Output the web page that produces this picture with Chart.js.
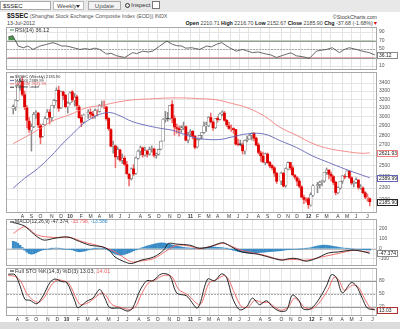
<!DOCTYPE html>
<html lang="en">
<head>
<meta charset="UTF-8">
<title>$SSEC Weekly</title>
<script src="https://cdn.jsdelivr.net/npm/chart.js"></script>
<style>
  body { margin: 0; width: 400px; height: 329px; overflow: hidden; background: #fff;
         font-family: Arial, "Liberation Sans", sans-serif; position: relative; color: #222; }
  #bar { position: absolute; left: 0; top: 0; width: 400px; height: 12px; background: #e8e8e8; }
  #bar div { position: absolute; top: 1px; height: 9px; font-size: 6px; line-height: 9px; box-sizing: border-box; }
  #sym { left: 0; width: 51px; background: #fff; border: 1px solid #aaa; padding-left: 2px; }
  #per { left: 53px; width: 31px; background: #fff; border: 1px solid #bbb; padding-left: 3px; color: #444; }
  #per span { position: absolute; right: 3px; top: 3px; border-left: 2px solid transparent; border-right: 2px solid transparent; border-top: 3px solid #333; }
  #upd { left: 88px; width: 33px; background: #f2f2f2; border: 1px solid #aaa; text-align: center; color: #555; }
  #insp { left: 125px; width: 28px; color: #333; }
  #insp i { display: inline-block; width: 3px; height: 3px; border: 1px solid #333; border-radius: 50%; margin-right: 1px; vertical-align: -1px; }
  #chk { left: 152px; width: 8px; height: 8px !important; background: #fff; border: 1px solid #777; }
  .t { position: absolute; white-space: nowrap; font-size: 5.3px; line-height: 6px; }
  #title { left: 7px; top: 13px; color: #555; }
  #title b { font-size: 6.5px; color: #111; }
  #copy { right: 23px; top: 14px; color: #444; }
  #date { left: 7px; top: 20px; color: #444; }
  #ohlc { right: 22px; top: 20px; color: #444; }
  #ohlc b { color: #111; }
  #ohlc span { color: #d00; }
  #foot { position: absolute; left: 0; top: 322px; width: 400px; height: 7px; background: #dcdcdc; }
  canvas { position: absolute; left: 0; }
</style>
</head>
<body>
<div id="bar">
  <div id="sym">$SSEC</div>
  <div id="per">Weekly<span></span></div>
  <div id="upd">Update</div>
  <div id="insp"><i></i>Inspect</div>
  <div id="chk"></div>
</div>
<div class="t" id="title"><b>$SSEC</b> (Shanghai Stock Exchange Composite Index (EOD)) INDX</div>
<div class="t" id="copy">©StockCharts.com</div>
<div class="t" id="date">13-Jul-2012</div>
<div class="t" id="ohlc"><b>Open</b> 2210.71 <b>High</b> 2216.70 <b>Low</b> 2152.67 <b>Close</b> 2185.90 <b>Chg</b> -37.68 (-1.68%)<span>▼</span></div>

<canvas id="rsiChart" width="400" height="43" style="top:27px"></canvas>
<canvas id="priceChart" width="400" height="148" style="top:72px"></canvas>
<canvas id="macdChart" width="400" height="47" style="top:219px"></canvas>
<canvas id="stoChart" width="400" height="55" style="top:268px"></canvas>
<div id="foot"></div>

<script>
  // weekly bars, 10-Jul-2009 .. 13-Jul-2012 (null = market closed all week)
  const opens = [
    3090,3110,3190,3370,3420,3255,3100,2950,2850,2890,
    3030,3040,2900,2790,2910,2980,3050,2990,3130,3190,
    3310,3100,3290,3250,3110,3160,3290,3190,3230,3110,
    2990,2940,null,3030,3050,3030,3010,3060,3060,3130,
    3130,3110,2980,2860,2690,2690,2590,2650,2550,2570,
    2510,2420,2380,2470,2430,2570,2640,2670,2600,2640,
    2610,2660,2660,2600,2610,2660,2740,2970,2980,2980,
    3140,2980,2880,2870,2860,2880,2890,2750,2825,2840,
    2790,2680,2760,2800,2830,2900,2900,2990,2940,2880,
    2980,2970,3030,3040,2960,2900,2870,2870,2860,2710,
    2710,2700,2640,2750,2760,2800,2820,2770,2700,2620,
    2590,2530,2610,2530,2500,2480,2430,null,2360,2430,
    2320,2470,2530,2480,2410,2390,2360,2310,2220,2200,
    2210,2160,2240,null,2320,2330,2350,2360,2440,2460,
    2420,2400,2350,2260,2300,2360,2400,2400,2450,2390,
    2340,2350,2370,2300,2300,2260,2220,2210.71
  ];
  const highs = [
    3135,3195,3380,3460,3478,3300,3130,2990,2920,3050,
    3070,3050,2920,2920,3000,3080,3080,3130,3200,3340,
    3361,3300,3300,3260,3170,3290,3306,3270,3250,3130,
    3020,3030,null,3080,3090,3060,3090,3080,3140,3180,
    3181,3120,2990,2870,2740,2700,2680,2660,2610,2590,
    2540,2430,2480,2510,2580,2650,2690,2680,2680,2650,
    2680,2690,2670,2620,2660,2740,2980,3060,3050,3130,
    3186,3010,2920,2900,2900,2940,2900,2830,2860,2850,
    2800,2760,2800,2830,2940,2940,3000,3040,2950,2980,
    3000,3040,3067,3060,2970,2940,2910,2880,2860,2760,
    2750,2720,2750,2790,2810,2826,2830,2780,2720,2640,
    2630,2620,2620,2540,2510,2490,2440,null,2440,2440,
    2480,2536,2530,2500,2420,2400,2380,2320,2240,2220,
    2220,2260,2330,null,2350,2360,2370,2440,2478,2460,
    2440,2410,2360,2310,2360,2410,2420,2453,2450,2400,
    2360,2390,2370,2330,2310,2270,2250,2216.70
  ];
  const lows = [
    3030,3070,3180,3310,3240,3080,2880,2830,2639,2880,
    2980,2880,2712,2780,2900,2970,2920,2950,3100,3180,
    3060,3090,3200,3100,3040,3140,3170,3120,3080,2980,
    2890,2930,null,2980,2990,2980,2980,3010,3050,3110,
    3090,2960,2850,2680,2620,2481,2560,2540,2520,2500,
    2420,2319,2370,2410,2420,2560,2600,2580,2590,2580,
    2600,2630,2580,2570,2600,2650,2740,2940,2950,2970,
    2930,2800,2820,2790,2830,2860,2740,2720,2790,2760,
    2661,2670,2750,2760,2820,2840,2890,2930,2850,2870,
    2940,2960,3010,2950,2890,2860,2840,2820,2700,2690,
    2690,2610,2610,2730,2760,2750,2740,2690,2610,2540,
    2530,2510,2520,2480,2460,2400,2340,null,2330,2310,
    2307,2460,2460,2410,2380,2320,2300,2220,2170,2180,
    2132,2150,2230,null,2260,2300,2320,2350,2420,2380,
    2360,2330,2242,2250,2290,2340,2380,2400,2380,2330,
    2310,2340,2290,2290,2250,2210,2190,2152.67
  ];
  const closes = [
    3114,3189,3372,3412,3260,3113,2960,2860,2890,3027,
    3040,2910,2779,2911,2976,3050,2996,3128,3187,3308,
    3096,3295,3247,3114,3153,3277,3196,3224,3128,2989,
    2939,3018,null,3051,3031,3014,3068,3060,3129,3131,
    3130,2979,2870,2688,2697,2583,2656,2554,2569,2514,
    2427,2383,2470,2424,2573,2637,2672,2604,2642,2610,
    2656,2663,2598,2610,2656,2738,2971,2975,2979,3129,
    2985,2888,2872,2857,2880,2895,2749,2808,2839,2791,
    2677,2752,2798,2828,2899,2905,2995,2944,2878,2977,
    2967,3030,3050,2960,2911,2872,2871,2859,2709,2705,
    2705,2642,2746,2762,2797,2820,2770,2701,2626,2593,
    2534,2612,2528,2497,2482,2432,2359,null,2431,2317,
    2473,2528,2481,2416,2397,2360,2315,2224,2205,2199,
    2163,2244,2319,null,2330,2351,2357,2439,2460,2421,
    2404,2349,2262,2302,2359,2406,2396,2452,2394,2344,
    2350,2373,2306,2307,2260,2225,2224,2185.90
  ];

  // moving averages (bar index, value)
  const ma50Idx = [0,5,10.6,16.6,22,26.4,30.7,35,39.2,43,47,52,57.6,65,70.4,76.4,82,90.5,96,103.3,110.6,117.4,124.7,132,138.8,146,153.4,157];
  const ma50 = [2300,2385,2470,2590,2720,2820,2920,2990,3035,3045,3010,2950,2910,2872,2850,2800,2765,2755,2780,2815,2812,2745,2675,2590,2530,2470,2415,2389.99];
  const ma200Idx = [0,10.6,17,25,32,39.2,46.5,53,60,67,75,82,89,96,103.3,110.6,117.4,124.7,132,138.8,146,153.4,157];
  const ma200 = [2714,2852,2950,3023,3099,3130,3170,3195,3205,3215,3217,3208,3196,3153,3099,3006,2885,2800,2714,2665,2637,2618,2621.93];

  // RSI(14)
  const rsiIdx = [0,2,4.3,6.5,8.5, 10.6,13.6,16.5,19.2,21.3, 23,25,28,30.7,33, 35,37,39.2,42.2,44,
    46.5,49.9,53.3,55,57.6, 60,61.9,64.9,67.9,70.4, 72,74.3,76,78.6,82, 85,87,89.2,91.4,94.8,
    97.7,100.4,102,104.6,107, 110.6,112.5,114.9,117,119.2, 121,123.4,126,129,132, 134,136.3,138.8,141.8,144,
    146,149.1,151.6,154.6,157];
  const rsi = [78.5,81.5,57,53,57, 49,57,61,65,61, 57,57,53,49,51, 49,52,49,38,40,
    34,30,41.5,39,45, 43,45,57,68.5,61, 58,57,52,53,49, 57,55,61,65,53,
    45,49,46,41.5,43, 38,36,30,34,38, 41,34,32,28,45, 47,49,53,41.5,49,
    53,49,45,41.5,36.12];

  // MACD(12,26,9)
  const macdIdx = [0,2,5,8,10.6, 13.6,17.9,22.1,25.1,27.7, 33.7,39.2,42.2,44.8,49.1, 52,56.3,61.9,66.2,68.3,
    72.1,77.7,82,86.7,90.5, 92.7,96.1,100.4,107.6,114.9, 118.3,121.7,124.7,129,133.3, 138.8,143.1,149.1,153.4,157];
  const macd = [265,255,230,170,120, 87,104,120,114,87, 36,19,-15,-84,-134, -151,-117,-84,-15,53,
    46,36,5,19,53, 60,19,-32,-56,-100, -117,-100,-100,-127,-100, -43,-33,-15,-25,-47.374];
  const sigIdx = [0,5,10.6,17.9,25, 30.7,39.2,44.8,52,56.3, 61.9,67.9,72.1,77.7,82, 90.5,93,100.4,110.6,117.4,
    124.7,129,135.9,143.1,150.3, 154.6,157];
  const signal = [155,222,138,114,114, 70,19,-32,-134,-125, -100,-15,36,26,0, 46,53,-15,-66,-110,
    -110,-117,-84,-49,-15, -32,-33.798];
  const hist = [
    75,68,55,35,12,
    -15,-35,-50,-56,-52,-42,-30,
    -20,-12,-8,-5,-2,2,5,6,4,0,-3,-5,-6,
    -8,-12,-20,-28,-32,-30,-26,-20,
    -12,-6,-2,2,4,6,5,2,-4,
    -15,-30,-45,-55,-62,-66,-64,-58,-50,-42,-32,-22,-12,-5,
    5,12,20,28,34,40,46,52,56,59,58,55,50,44,38,32,26,22,
    18,14,10,8,6,4,2,0,2,
    6,10,14,18,20,18,16,14,12,10,6,2,-4,
    -10,-16,-22,-28,-32,-36,-40,-43,-45,-45,-44,-42,-40,-38,-36,-34,-32,-30,-28,-26,-24,-22,-20,-16,-12,-10,-8,-6,
    -5,-4,-3,-2,0,2,
    6,10,16,22,28,32,35,36,35,32,28,24,20,16,12,8,5,
    2,0,-2,-4,-5,-6,-8,-10,-12,-13,-13.586
  ];

  // Full STO %K(14,3) %D(3)
  const kIdx = [0,2.9,5.1,7.2,9.3, 12.3,14.9,17.9,20,23, 25.1,28.6,29.8,33.7,36.3, 39.2,41.4,43.5,47.8,51.2,
    53.3,56.3,59.3,61.9,65.7, 69.2,72.1,76.4,80.7,82, 85.4,88.4,91.4,93.5,96.1, 99.1,102.1,104.6,107.6,110.6,
    113.2,116.2,119.2,121.7,124.7, 126,129,132,136.3,138.4, 140.5,143.1,146.9,149.1,151.6, 153.8,157];
  const stoK = [95,94,68,37,35, 27,45,76,84,78, 76,33,18,33,40, 60,40,18,17,10,
    17,56,80,80,96, 92,52,45,17,25, 84,80,96,88,40, 13,20,40,25,34,
    20,10,12,47,33, 16,14,29,68,94, 88,52,76,68,40, 17,13.03];
  const dIdx = [0,3,5.5,8,10.5, 13,15.5,18.5,21,23.5, 26,29.5,31,34.5,37, 40,42,44.5,48.5,52,
    54.5,57,60,63,66.5, 70,73,77,81.5,83, 86,89,92.5,94.5,97, 100,103,105.5,108.5,111.5,
    114,117,120,122.5,125, 127,130,133,137,139.5, 141.5,144,147.5,150,152.5, 155,157];
  const stoD = [92,90,78,50,36, 30,42,70,82,80, 74,35,25,30,40, 52,45,25,18,14,
    20,48,75,82,92, 90,60,47,25,30, 75,82,92,82,50, 20,20,35,30,30,
    20,12,20,40,30, 18,15,28,60,88, 82,58,70,65,40, 18,14.01];

  // axis ticks
  const monthPos = [4,8,12,17,21, 25,30,34,38,43,47,51,56,60,64,69,73, 78,82,86,90,95,99,103,108,112,117,121,125, 130,134,138,143,147,151,156];
  const monthLabels = ['A','S','O','N','D','10','F','M','A','M','J','J','A','S','O','N','D','11','F','M','A','M','J','J','A','S','O','N','D','12','F','M','A','M','J','J'];
  const priceTicks = [2200,2300,2400,2500,2600,2700,2800,2900,3000,3100,3200,3300,3400];
  const rsiTicks = [10,30,50,70,90];
  const macdTicks = [-100,0,100,200];
  const stoTicks = [20,50,80];

  const FONT = 'Arial, "Liberation Sans", sans-serif';
  const RED = '#e00000';
  const GRID = '#e4e4e4';

  const pts = (xs, ys) => xs.map((x, i) => ({x: x, y: ys[i]}));

  // panel decorations: reference lines, frame, legend text, value boxes on the axis
  const panelPlugin = {
    id: 'panel',
    beforeDatasetsDraw(chart, args, o) {
      const ctx = chart.ctx, a = chart.chartArea, y = chart.scales.y;
      (o.refs || []).forEach(r => {
        const py = Math.round(y.getPixelForValue(r.v)) + 0.5;
        ctx.save();
        ctx.strokeStyle = r.color;
        ctx.lineWidth = 1;
        ctx.setLineDash(r.dash || []);
        ctx.beginPath(); ctx.moveTo(a.left, py); ctx.lineTo(a.right, py); ctx.stroke();
        ctx.restore();
      });
    },
    afterDraw(chart, args, o) {
      const ctx = chart.ctx, a = chart.chartArea, y = chart.scales.y;
      ctx.save();
      ctx.strokeStyle = '#a8a8a8';
      ctx.lineWidth = 1;
      ctx.strokeRect(a.left - 0.5, a.top + 0.5, a.right - a.left + 1, a.bottom - a.top - 1);

      // legend
      let ly = a.top + (o.legendTop || 3);
      (o.legend || []).forEach(row => {
        let lx = a.left + 3;
        ctx.font = (o.legendSize || 5) + 'px ' + FONT;
        ctx.textBaseline = 'middle';
        if (row.mark) {
          ctx.fillStyle = row.mark;
          ctx.fillRect(lx, ly - 0.5, 4, 1);
          lx += 5;
        }
        row.parts.forEach(p => {
          ctx.fillStyle = p.color || '#333';
          ctx.fillText(p.text, lx, ly);
          lx += ctx.measureText(p.text).width;
        });
        ly += o.legendStep || 6;
      });

      // last-value boxes
      (o.boxes || []).forEach(b => {
        const py = Math.round(y.getPixelForValue(b.v));
        ctx.fillStyle = '#fff';
        ctx.fillRect(a.right + 1, py - 3, 21, 6);
        ctx.strokeStyle = b.color;
        ctx.strokeRect(a.right + 1.5, py - 2.5, 20, 6);
        ctx.font = '5px ' + FONT;
        ctx.textBaseline = 'middle';
        ctx.fillStyle = '#222';
        ctx.fillText(b.text, a.right + 3, py + 0.5);
      });
      ctx.restore();
    }
  };

  function xAxis(labels) {
    return {
      type: 'linear', min: -0.5, max: closes.length - 0.5,
      afterBuildTicks: ax => { ax.ticks = monthPos.map(v => ({value: v})); },
      afterFit: ax => { ax.height = labels ? 7 : 0; ax.paddingLeft = 0; ax.paddingRight = 0; },
      grid: {color: GRID, lineWidth: 1, drawTicks: false},
      border: {display: false},
      ticks: {
        display: labels, autoSkip: false, maxRotation: 0, padding: 1, color: '#333',
        font: c => ({family: FONT, size: 5, weight: /^\d/.test(monthLabels[c.index] || '') ? 'bold' : 'normal'}),
        callback: (v, i) => monthLabels[i]
      }
    };
  }

  function yAxis(extra, tickList) {
    return Object.assign({
      position: 'right',
      afterBuildTicks: ax => { ax.ticks = tickList.map(v => ({value: v})); },
      afterFit: ax => { ax.width = 24; ax.paddingTop = 0; ax.paddingBottom = 0; },
      grid: {color: GRID, lineWidth: 1, drawTicks: false},
      border: {display: false},
      ticks: {color: '#555', padding: 3, autoSkip: false, font: {family: FONT, size: 5}, callback: v => String(v)}
    }, extra);
  }

  function baseOptions(xLabels, y, panel) {
    return {
      responsive: false,
      animation: false,
      devicePixelRatio: 1,
      layout: {padding: {left: 7, right: 0, top: 0, bottom: 0}},
      plugins: {legend: {display: false}, tooltip: {enabled: false}, panel: panel},
      scales: {x: xAxis(xLabels), y: y}
    };
  }

  // RSI panel
  new Chart(document.getElementById('rsiChart'), {
    type: 'line',
    data: {datasets: [
      {data: pts(rsiIdx, rsi), borderColor: '#444', borderWidth: 0.8, pointRadius: 0, tension: 0,
       fill: {target: {value: 70}, above: '#4a8f4a', below: 'rgba(0,0,0,0)'}},
      {data: pts(rsiIdx, rsi), borderWidth: 0, pointRadius: 0, tension: 0,
       fill: {target: {value: 30}, above: 'rgba(0,0,0,0)', below: RED}}
    ]},
    options: baseOptions(false, yAxis({min: 0.6, max: 101.8}, rsiTicks), {
      refs: [{v: 70, color: '#999'}, {v: 50, color: '#aaa', dash: [2, 1]}, {v: 30, color: '#999'}],
      legendTop: 3, legendSize: 5.5,
      legend: [{mark: '#4a8f4a', parts: [{text: 'RSI(14) 36.12'}]}],
      boxes: [{v: 36.12, text: '36.12', color: '#888'}]
    }),
    plugins: [panelPlugin]
  });

  // price panel: candles from floating bars + moving averages
  const filled = [], filledCol = [], hollow = [], hollowCol = [], wicks = [], wickCol = [];
  let prev = null;
  closes.forEach((c, i) => {
    if (c == null) return;
    const up = prev == null || c >= prev;
    wicks.push({x: i, y: [lows[i], highs[i]]}); wickCol.push(up ? '#8a8a8a' : '#f06a6a');
    if (c >= opens[i]) { hollow.push({x: i, y: [opens[i], c]}); hollowCol.push(up ? '#6e6e6e' : RED); }
    else { filled.push({x: i, y: [c, opens[i]]}); filledCol.push(up ? '#222' : RED); }
    prev = c;
  });

  new Chart(document.getElementById('priceChart'), {
    type: 'bar',
    data: {datasets: [
      {type: 'line', data: pts(ma50Idx, ma50), borderColor: '#6464b8', borderWidth: 0.9, pointRadius: 0, tension: 0.4, order: 0},
      {type: 'line', data: pts(ma200Idx, ma200), borderColor: '#f48080', borderWidth: 0.9, pointRadius: 0, tension: 0.4, order: 0},
      {data: filled, backgroundColor: filledCol, barThickness: 2.2, grouped: false, order: 1},
      {data: hollow, backgroundColor: '#fff', borderColor: hollowCol, borderWidth: 0.6, borderSkipped: false, barThickness: 2.8, grouped: false, order: 1},
      {data: wicks, backgroundColor: wickCol, barThickness: 0.9, grouped: false, order: 2}
    ]},
    options: baseOptions(true, yAxis({type: 'logarithmic', min: 2096, max: 3543}, priceTicks), {
      legendTop: 5, legendSize: 4, legendStep: 3.4,
      legend: [
        {mark: '#333', parts: [{text: '$SSEC (Weekly) 2185.90'}]},
        {mark: '#6464b8', parts: [{text: 'MA(50) 2389.99'}]},
        {mark: '#f48080', parts: [{text: 'MA(200) 2621.93', color: '#e05050'}]},
        {mark: '#333', parts: [{text: 'Volume undef'}]}
      ],
      boxes: [
        {v: 2621.93, text: '2621.93', color: '#f48080'},
        {v: 2389.99, text: '2389.99', color: '#6464b8'},
        {v: 2185.90, text: '2185.90', color: '#222'}
      ]
    }),
    plugins: [panelPlugin]
  });

  // MACD panel
  new Chart(document.getElementById('macdChart'), {
    type: 'bar',
    data: {datasets: [
      {type: 'line', data: pts(macdIdx, macd), borderColor: '#111', borderWidth: 0.9, pointRadius: 0, tension: 0.3, order: 0},
      {type: 'line', data: pts(sigIdx, signal), borderColor: '#f06060', borderWidth: 0.9, pointRadius: 0, tension: 0.3, order: 0},
      {data: hist.map((h, i) => ({x: i, y: h})), backgroundColor: '#3a8cc6', barThickness: 2, grouped: false, order: 1}
    ]},
    options: baseOptions(false, yAxis({min: -176, max: 301.7}, macdTicks), {
      refs: [{v: 0, color: '#bbb'}],
      legendTop: 3, legendSize: 5,
      legend: [{mark: '#111', parts: [
        {text: 'MACD(12,26,9) -47.374, '}, {text: '-33.798, ', color: '#f06060'}, {text: '-13.586', color: '#3a8cc6'}
      ]}],
      boxes: [{v: -47.374, text: '-47.374', color: '#888'}]
    }),
    plugins: [panelPlugin]
  });

  // Full STO panel
  new Chart(document.getElementById('stoChart'), {
    type: 'line',
    data: {datasets: [
      {data: pts(kIdx, stoK), borderColor: '#111', borderWidth: 0.9, pointRadius: 0, tension: 0.3},
      {data: pts(dIdx, stoD), borderColor: '#f06060', borderWidth: 0.9, pointRadius: 0, tension: 0.3}
    ]},
    options: baseOptions(true, yAxis({min: -1.2, max: 109.4}, stoTicks), {
      refs: [{v: 80, color: '#999'}, {v: 50, color: '#aaa', dash: [2, 1]}, {v: 20, color: '#999'}],
      legendTop: 3, legendSize: 5.5,
      legend: [{mark: '#111', parts: [{text: 'Full STO %K(14,3) %D(3) 13.03, '}, {text: '14.01', color: '#f06060'}]}],
      boxes: [{v: 13.03, text: '13.03', color: '#b03030'}]
    }),
    plugins: [panelPlugin]
  });
</script>
</body>
</html>
